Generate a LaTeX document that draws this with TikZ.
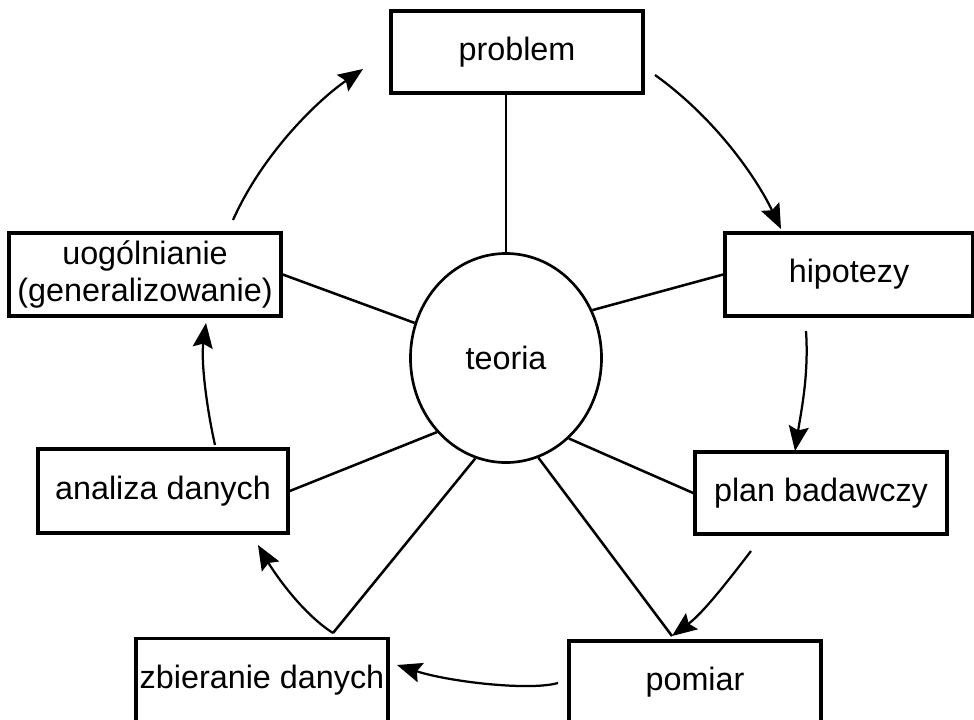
\documentclass[tikz,border=0pt]{standalone}
\usepackage{fontspec}
\setmainfont{Liberation Sans}
\usetikzlibrary{arrows.meta,shapes.geometric}

\begin{document}
\begin{tikzpicture}[x=0.025cm,y=-0.025cm,
  txt/.style={font=\fontsize{23}{26.3}\selectfont},
  box/.style={txt,draw,line width=2.5pt,inner sep=0pt,minimum width=6.3cm,minimum height=2.05cm,align=center},
  spoke/.style={line width=1.8pt},
  arr/.style={line width=1.6pt,-{Stealth[length=0.62cm,width=0.5cm,inset=0.1cm]}}]
\useasboundingbox (0,0) rectangle (974,719);
% the cycle of steps
\node[box] (problem) at (517,52) {problem};
\node[box,minimum width=6.2cm,minimum height=2.075cm] (hipotezy) at (849,274.5) {hipotezy};
\node[box] (plan) at (821,493) {plan badawczy};
\node[box] (pomiar) at (695,682) {pomiar};
\node[box,minimum height=2.075cm] (zbieranie) at (262,680) {zbieranie danych};
\node[box,minimum width=6.25cm,minimum height=2.1cm] (analiza) at (163,491) {analiza danych};
\node[box,minimum width=6.8cm,minimum height=2.075cm] (uogol) at (145,274.5) {uog\'olnianie\\(generalizowanie)};
% theory in the middle
\node[txt,draw,ellipse,line width=1.9pt,inner sep=0pt,minimum width=4.775cm,minimum height=5.225cm] (teoria) at (506,358) {teoria};
\coordinate (zbtop) at (333,633);
\coordinate (pmtop) at (672,636);
\draw[spoke] (teoria.north) -- (teoria.north |- problem.south);
\draw[spoke] (teoria.29) -- (hipotezy.west);
\draw[spoke] (teoria.159) -- (uogol.east);
\draw[spoke] (teoria.227) -- (analiza.east);
\draw[spoke] (teoria.308) -- (plan.west);
\draw[spoke] (teoria.253) -- (zbtop);
\draw[spoke] (teoria.288) -- (pmtop);
% arrows round the cycle
\coordinate (uo1) at (233,220); \coordinate (pr1) at (363,69);
\coordinate (pr2) at (655,75);  \coordinate (hi1) at (781,229);
\coordinate (hi2) at (806,331); \coordinate (pl1) at (795,451);
\coordinate (pl2) at (751,551);
\coordinate (po2) at (558,683); \coordinate (zb1) at (397,665);
\coordinate (an1) at (258,545);
\coordinate (an2) at (215,445); \coordinate (uo2) at (206,323);
\draw[arr] (uo1) .. controls (263,153) and (318,100) .. (pr1);
\draw[arr] (pr2) .. controls (715,118) and (756,177) .. (hi1);
\draw[arr] (hi2) .. controls (809,375) and (801,412) .. (pl1);
\draw[arr] (pl2) .. controls (728,581) and (703,613) .. (pmtop);
\draw[arr] (po2) .. controls (530,691) and (450,682) .. (zb1);
\draw[arr] (zbtop) .. controls (300,612) and (272,569) .. (an1);
\draw[arr] (an2) .. controls (206,405) and (201,360) .. (uo2);
\end{tikzpicture}
\end{document}
